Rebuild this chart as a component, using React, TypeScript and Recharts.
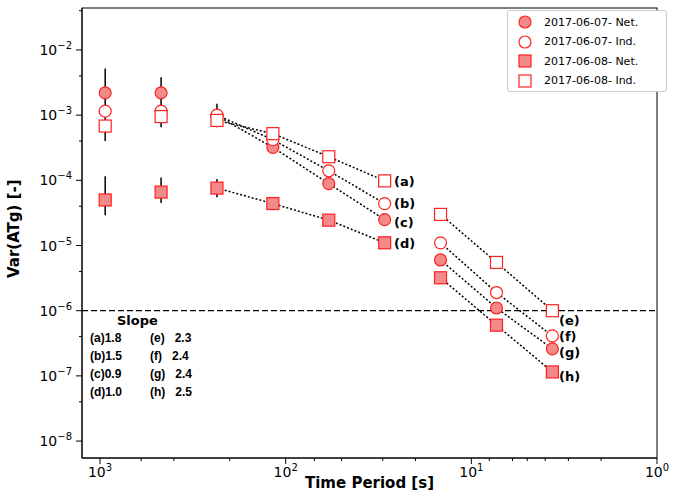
import React from 'react'
import {
  ComposedChart,
  Scatter,
  XAxis,
  YAxis,
  ReferenceLine,
  ErrorBar,
} from 'recharts'

const periods = [937.5, 468.75, 234.4, 117.2, 58.6, 29.3, 14.65, 7.32, 3.66]
const net0607 = [2.2e-3, 2.2e-3, 9.8e-4, 3.2e-4, 8.9e-5, 2.5e-5, 6e-6, 1.1e-6, 2.6e-7]
const ind0607 = [1.15e-3, 1.15e-3, 1.0e-3, 4.2e-4, 1.4e-4, 4.4e-5, 1.1e-5, 1.9e-6, 4.1e-7]
const net0608 = [5e-5, 6.6e-5, 7.6e-5, 4.4e-5, 2.45e-5, 1.1e-5, 3.2e-6, 6e-7, 1.15e-7]
const ind0608 = [6.8e-4, 9.5e-4, 8.3e-4, 5.2e-4, 2.3e-4, 9.8e-5, 3e-5, 5.5e-6, 1e-6]
// error bar ranges [low, high] for the first three periods
const err0607 = [[4e-4, 5.2e-3], [6.5e-4, 3.8e-3], [6.5e-4, 1.5e-3]]
const err0608 = [[2.9e-5, 1.15e-4], [4.5e-5, 1.1e-4], [5.5e-5, 1.05e-4]]
const slopesLeft = [['(a)', '1.8'], ['(b)', '1.5'], ['(c)', '0.9'], ['(d)', '1.0']]
const slopesRight = [['(e)', '2.3'], ['(f)', '2.4'], ['(g)', '2.4'], ['(h)', '2.5']]
const fitLabels = ['(a)', '(b)', '(c)', '(d)', '(e)', '(f)', '(g)', '(h)']
const legendItems = ['2017-06-07- Net.', '2017-06-07- Ind.', '2017-06-08- Net.', '2017-06-08- Ind.']

const toPts = (vals: number[], errs?: number[][]) =>
  vals.map((v, i) => ({
    x: periods[i],
    y: v,
    err: errs && errs[i] ? [v - errs[i][0], errs[i][1] - v] : undefined,
  }))

const seg = (vals: number[], a: number, b: number) =>
  vals.slice(a, b + 1).map((v, i) => ({ x: periods[a + i], y: v }))

const RED = '#ff2020'
const FILL = '#f28a8a'

const Marker = ({ kind, filled, cx, cy }: any) => {
  if (cx == null) return null
  const fill = filled ? FILL : 'white'
  return kind === 'c' ? (
    <circle cx={cx} cy={cy} r={6} fill={fill} stroke={RED} strokeWidth={1.2} />
  ) : (
    <rect x={cx - 6} y={cy - 6} width={12} height={12} fill={fill} stroke={RED} strokeWidth={1.2} />
  )
}

const xMajors = [1000, 100, 10, 1]
const xTicks: number[] = []
for (const d of [1, 10, 100, 1000]) for (let k = 1; k < 10; k++) if (d * k <= 1250) xTicks.push(d * k)
const yTicks: number[] = []
for (let e = -9; e <= -2; e++) for (let k = 1; k < 10; k++) {
  const v = k * Math.pow(10, e)
  if (v >= 5.5e-9 && v <= 4.4e-2) yTicks.push(v)
}

const XTick = ({ x, y, payload }: any) => {
  const v = payload.value
  const major = xMajors.some((m) => Math.abs(m - v) < 1e-9)
  return (
    <g>
      <line x1={x} x2={x} y1={y - 8} y2={y - 8 + (major ? 6 : 3)} stroke="#000" />
      {major && (
        <text x={x} y={y + 11} textAnchor="middle" fontSize={14} fill="#000">
          10<tspan dy={-6} fontSize={10}>{Math.round(Math.log10(v))}</tspan>
        </text>
      )}
    </g>
  )
}

const YTick = ({ x, y, payload }: any) => {
  const v = payload.value
  const lg = Math.log10(v)
  const major = Math.abs(lg - Math.round(lg)) < 1e-6
  return (
    <g>
      <line x1={x + 8} x2={x + 8 - (major ? 6 : 3)} y1={y} y2={y} stroke="#000" />
      {major && (
        <text x={x - 2} y={y + 5} textAnchor="end" fontSize={14} fill="#000">
          10<tspan dy={-6} fontSize={10}>{'\u2212' + Math.abs(Math.round(lg))}</tspan>
        </text>
      )}
    </g>
  )
}

const labelPos = [
  [394, 182], [394, 204], [394, 223], [394, 244],
  [559, 321], [559, 337], [559, 353], [559, 377],
]

const dotted = { stroke: '#000', strokeWidth: 1.5, strokeDasharray: '2 2' }

export default function App() {
  const series: [number[], string, boolean, number[][] | undefined][] = [
    [net0607, 'c', true, err0607],
    [ind0607, 'c', false, undefined],
    [net0608, 's', true, err0608],
    [ind0608, 's', false, undefined],
  ]
  return (
    <div style={{ position: 'absolute', left: 0, top: 0, width: 673, height: 497, fontFamily: 'DejaVu Sans', background: 'white' }}>
      <ComposedChart width={673} height={497} margin={{ top: 8, right: 16, bottom: 0, left: 0 }}>
        <XAxis
          type="number" dataKey="x" scale="log" domain={[1, 1250]} reversed
          ticks={xTicks} tick={<XTick />} tickLine={false} height={39}
          axisLine={{ stroke: '#000' }} allowDataOverflow
        />
        <YAxis
          type="number" dataKey="y" scale="log" domain={[5.5e-9, 4.4e-2]}
          ticks={yTicks} tick={<YTick />} tickLine={false} width={82}
          axisLine={{ stroke: '#000' }} allowDataOverflow
          label={{ value: 'Var(ATg) [-]', angle: -90, position: 'insideLeft', offset: 14, dy: 45, fontSize: 15, fontWeight: 'bold', fill: '#000' }}
        />
        <ReferenceLine y={1e-6} stroke="#000" strokeDasharray="6 3" strokeWidth={1.3} />
        {[ind0608, ind0607, net0607, net0608].map((v, i) => (
          <Scatter key={'a' + i} data={seg(v, 2, 5)} line={dotted} shape={() => null} isAnimationActive={false} />
        ))}
        {[ind0608, ind0607, net0607, net0608].map((v, i) => (
          <Scatter key={'b' + i} data={seg(v, 6, 8)} line={dotted} shape={() => null} isAnimationActive={false} />
        ))}
        {series.map(([v, kind, filled, errs], i) => (
          <Scatter key={'s' + i} data={toPts(v, errs)} isAnimationActive={false}
            shape={(p: any) => <Marker {...p} kind={kind} filled={filled} />}>
            {errs && <ErrorBar dataKey="err" direction="y" stroke="#000" strokeWidth={1.5} width={0} />}
          </Scatter>
        ))}
        <rect x={82} y={8} width={575} height={450} fill="none" stroke="#000" />
      </ComposedChart>

      <div style={{ position: 'absolute', left: 82, width: 575, top: 474, textAlign: 'center', fontSize: 15, fontWeight: 'bold' }}>Time Period [s]</div>

      {fitLabels.map((t, i) => (
        <div key={t} style={{ position: 'absolute', left: labelPos[i][0], top: labelPos[i][1] - 8, fontSize: 13, fontWeight: 'bold' }}>{t}</div>
      ))}

      <div style={{ position: 'absolute', left: 117, top: 313, fontSize: 13, fontWeight: 'bold' }}>Slope</div>
      {slopesLeft.map(([a, b], i) => (
        <div key={a} style={{ position: 'absolute', left: 90, top: 331 + i * 18, fontSize: 12, fontWeight: 'bold', fontFamily: 'Liberation Sans' }}>{a}{b}</div>
      ))}
      {slopesRight.map(([a, b], i) => (
        <div key={a} style={{ position: 'absolute', left: 150, top: 331 + i * 18, fontSize: 12, fontWeight: 'bold', whiteSpace: 'pre', fontFamily: 'Liberation Sans' }}>{a}   {b}</div>
      ))}

      <div style={{ position: 'absolute', left: 507, top: 10, width: 158, height: 80, border: '1px solid #ccc', borderRadius: 3, background: 'white' }}>
        {legendItems.map((t, i) => (
          <div key={t} style={{ position: 'absolute', left: 8, top: 3 + i * 19.5, display: 'flex', alignItems: 'center', fontSize: 11 }}>
            <svg width={18} height={16}>
              <Marker cx={9} cy={8} kind={i < 2 ? 'c' : 's'} filled={i % 2 === 0} />
            </svg>
            <span style={{ marginLeft: 10 }}>{t}</span>
          </div>
        ))}
      </div>
    </div>
  )
}
